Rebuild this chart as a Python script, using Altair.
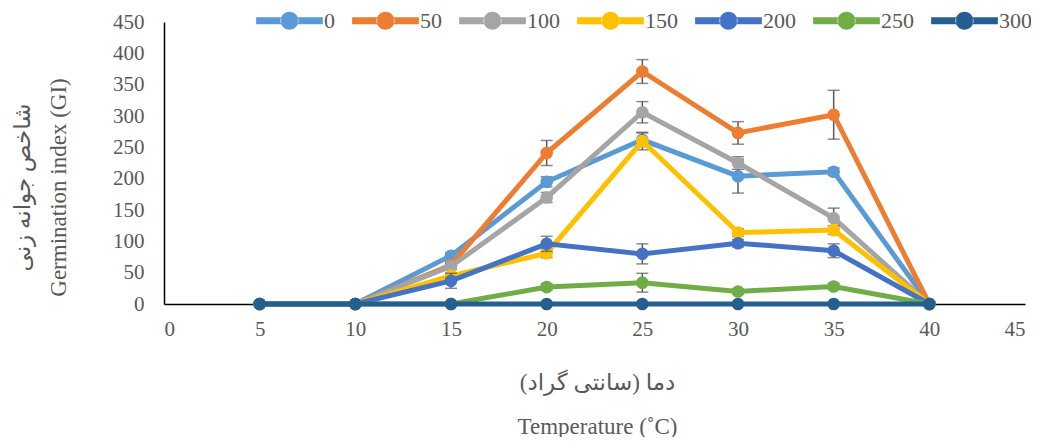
import altair as alt
import pandas as pd

temps = [5, 10, 15, 20, 25, 30, 35, 40]
series = ["0", "50", "100", "150", "200", "250", "300"]
colors = ["#5B9BD5", "#ED7D31", "#A5A5A5", "#FFC000", "#4472C4", "#70AD47", "#255E91"]

gi_0 = [0, 0, 77, 195, 262, 204, 211, 0]
gi_50 = [0, 0, 62, 241, 371, 273, 302, 0]
gi_100 = [0, 0, 60, 170, 306, 225, 137, 0]
gi_150 = [0, 0, 45, 81, 260, 114, 118, 0]
gi_200 = [0, 0, 37, 96, 80, 97, 85, 0]
gi_250 = [0, 0, 0, 27, 34, 20, 28, 0]
gi_300 = [0, 0, 0, 0, 0, 0, 0, 0]

err_0 = [0, 0, 5, 8, 11, 27, 6, 0]
err_50 = [0, 0, 5, 20, 19, 18, 39, 0]
err_100 = [0, 0, 5, 8, 17, 10, 16, 0]
err_150 = [0, 0, 4, 7, 14, 6, 7, 0]
err_200 = [0, 0, 12, 12, 16, 6, 11, 0]
err_250 = [0, 0, 0, 5, 15, 4, 5, 0]
err_300 = [0, 0, 0, 0, 0, 0, 0, 0]

x_ticks = [0, 5, 10, 15, 20, 25, 30, 35, 40, 45]
y_ticks = [0, 50, 100, 150, 200, 250, 300, 350, 400, 450]

values = [gi_0, gi_50, gi_100, gi_150, gi_200, gi_250, gi_300]
errors = [err_0, err_50, err_100, err_150, err_200, err_250, err_300]

rows = []
for s, vals, errs in zip(series, values, errors):
    for t, v, e in zip(temps, vals, errs):
        rows.append({"temp": t, "series": s, "gi": v, "err": e, "lo": v - e, "hi": v + e})
df = pd.DataFrame(rows)

FONT = "Liberation Serif, DejaVu Sans"
GRAY = "#595959"

x_enc = alt.X(
    "temp:Q",
    scale=alt.Scale(domain=[0, 45], nice=False),
    axis=alt.Axis(
        values=x_ticks, grid=False, ticks=False, domainColor="black", domainWidth=1.5,
        labelFont=FONT, labelFontSize=21, labelColor=GRAY, labelPadding=14,
        title=["دما (سانتی گراد)", "Temperature (˚C)"],
        titleFont=FONT, titleFontSize=23, titleFontWeight="normal", titleColor=GRAY,
        titleLineHeight=44, titleBaseline="middle", titleX=433, titleY=78,
    ),
)
y_scale = alt.Scale(domain=[0, 450], nice=False)
y_axis = alt.Axis(
    values=y_ticks, grid=False, ticks=False, domainColor="black", domainWidth=1.5,
    labelFont=FONT, labelFontSize=21, labelColor=GRAY, labelPadding=20,
    title=["شاخص جوانه زنی", "Germination index (GI)"],
    titleFont=FONT, titleFontSize=23, titleFontWeight="normal", titleColor=GRAY,
    titleLineHeight=36, titleBaseline="middle", titleAngle=270, titleX=-142, titleY=165,
)

sym = ("M-1,-0.107 H-0.25 V0.107 H-1 Z M0.25,-0.107 H1 V0.107 H0.25 Z "
       "M-0.27,0 A0.27,0.27 0 1,0 0.27,0 A0.27,0.27 0 1,0 -0.27,0 Z")

color_enc = alt.Color(
    "series:N",
    scale=alt.Scale(domain=series, range=colors),
    legend=alt.Legend(
        orient="none", legendX=92, legendY=-35, direction="horizontal", title=None,
        symbolType=sym, symbolSize=4452, symbolStrokeWidth=0, symbolOpacity=1,
        labelFont=FONT, labelFontSize=22, labelColor=GRAY, labelOffset=1,
        columnPadding=17,
    ),
)

base = alt.Chart(df)
layers = []
for s, c in zip(series, colors):
    sb = base.transform_filter(alt.datum.series == s)
    eb = sb.transform_filter(alt.datum.err > 0)
    layers.append(eb.mark_rule(color=GRAY, strokeWidth=1.5).encode(
        x=x_enc, y=alt.Y("lo:Q", scale=y_scale, axis=y_axis), y2="hi:Q"))
    layers.append(eb.mark_tick(orient="horizontal", size=12, thickness=1.5, color=GRAY).encode(
        x=x_enc, y=alt.Y("hi:Q", scale=y_scale, axis=y_axis)))
    layers.append(eb.mark_tick(orient="horizontal", size=12, thickness=1.5, color=GRAY).encode(
        x=x_enc, y=alt.Y("lo:Q", scale=y_scale, axis=y_axis)))
    layers.append(sb.mark_line(color=c, strokeWidth=5).encode(
        x=x_enc, y=alt.Y("gi:Q", scale=y_scale, axis=y_axis)))
    layers.append(sb.mark_circle(size=160, opacity=1).encode(
        x=x_enc, y=alt.Y("gi:Q", scale=y_scale, axis=y_axis), color=color_enc))

chart = alt.layer(*layers).properties(
    width=861, height=282,
    autosize=alt.AutoSizeParams(type="none"),
    padding={"left": 156, "top": 14, "right": 6, "bottom": 133},
    background="white",
).configure_view(strokeWidth=0)

chart.save("out.html", embed_options={"renderer": "svg", "actions": False})
